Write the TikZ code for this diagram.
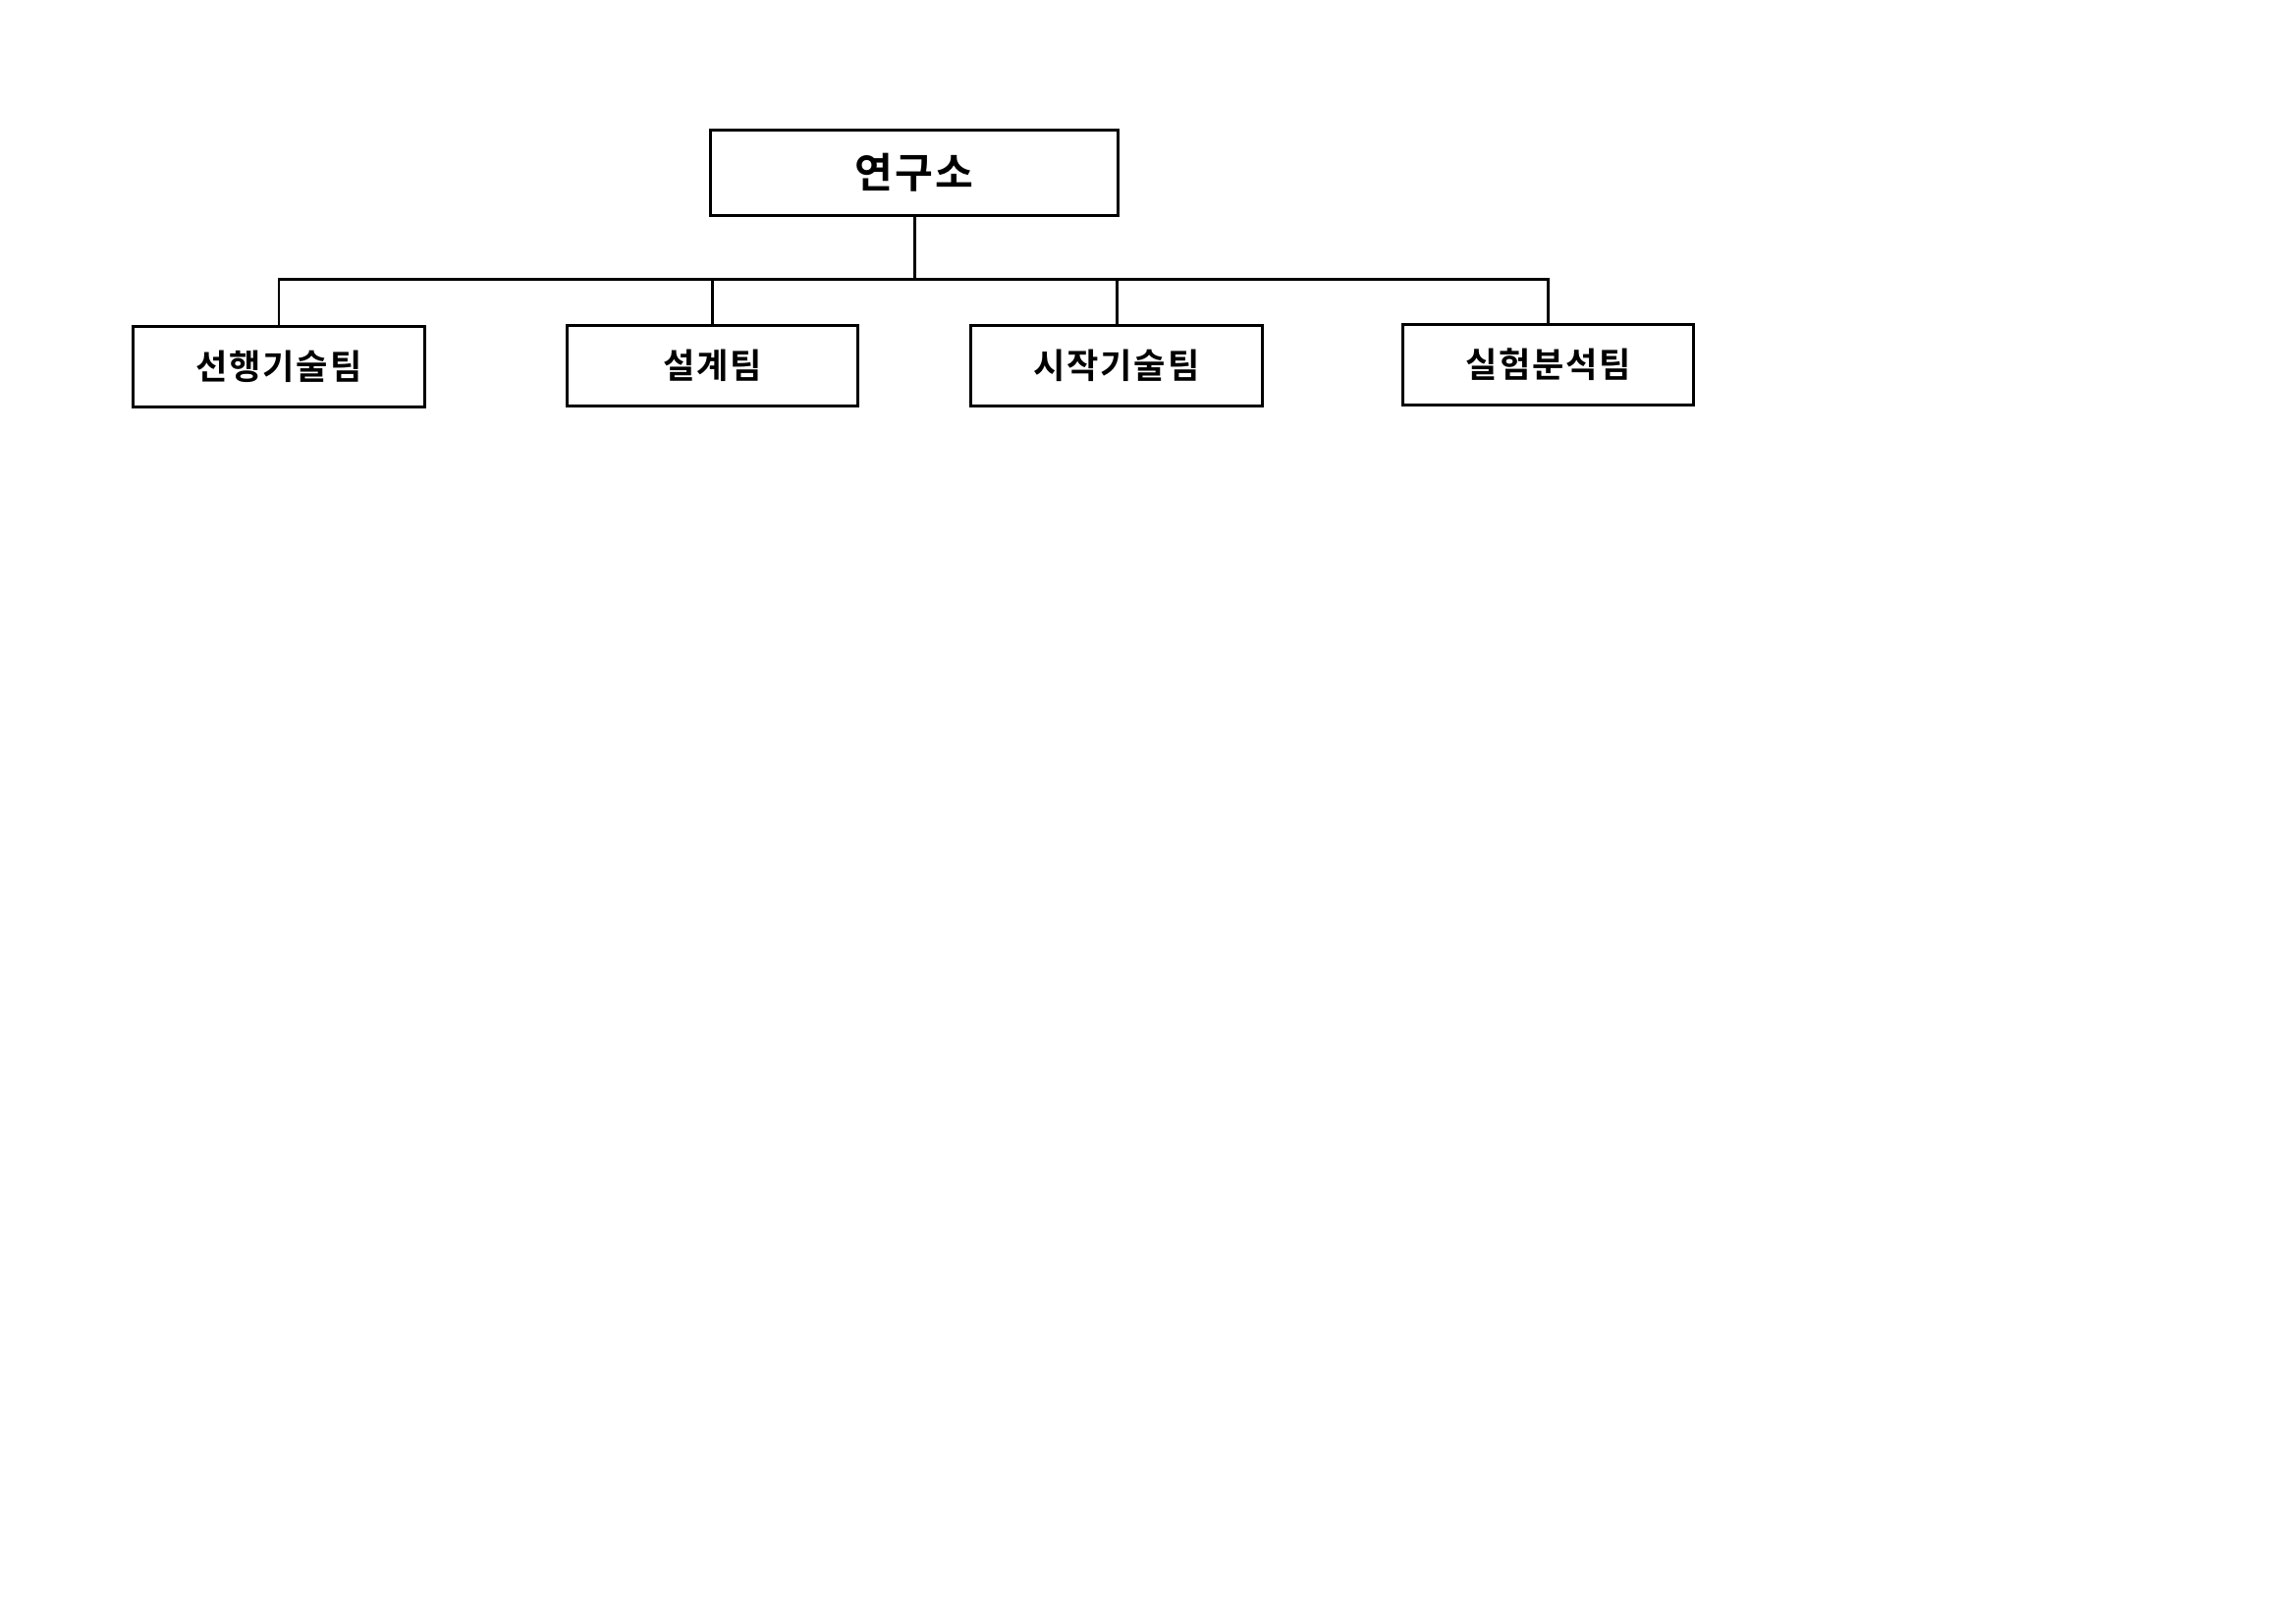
\documentclass[tikz,border=0pt]{standalone}
\usepackage{fontspec}
\newfontfamily\kr{Noto Sans CJK KR}[BoldFont={* Bold},LetterSpace=5]
\begin{document}
\begin{tikzpicture}[x=0.01cm,y=-0.01cm,
  box/.style={draw=black,line width=0.85pt,inner sep=0pt,font=\kr\bfseries},
  topbox/.style={box,minimum width=4.14cm,minimum height=0.86cm,font=\kr\bfseries\fontsize{12}{14}\selectfont},
  teambox/.style={box,minimum width=2.96cm,minimum height=0.81cm,font=\kr\bfseries\fontsize{10}{12}\selectfont},
  link/.style={line width=0.85pt}]
\useasboundingbox[fill=white] (0,0) rectangle (2338,1653);
\node[topbox] (top) at (931,176) {연구소};
\node[teambox] (t1) at (284,373.5) {선행기술팀};
\node[teambox] (t2) at (725.5,372.5) {설계팀};
\node[teambox] (t3) at (1137,372.5) {시작기술팀};
\node[teambox] (t4) at (1576.5,371.5) {실험분석팀};
\coordinate (bus) at (931,284);
\draw[link] (top.south) -- (bus);
\draw[link] (t1.north) -- (t1.north |- bus) -- (t4.north |- bus) -- (t4.north);
\draw[link] (t2.north) -- (t2.north |- bus);
\draw[link] (t3.north) -- (t3.north |- bus);
\end{tikzpicture}
\end{document}
